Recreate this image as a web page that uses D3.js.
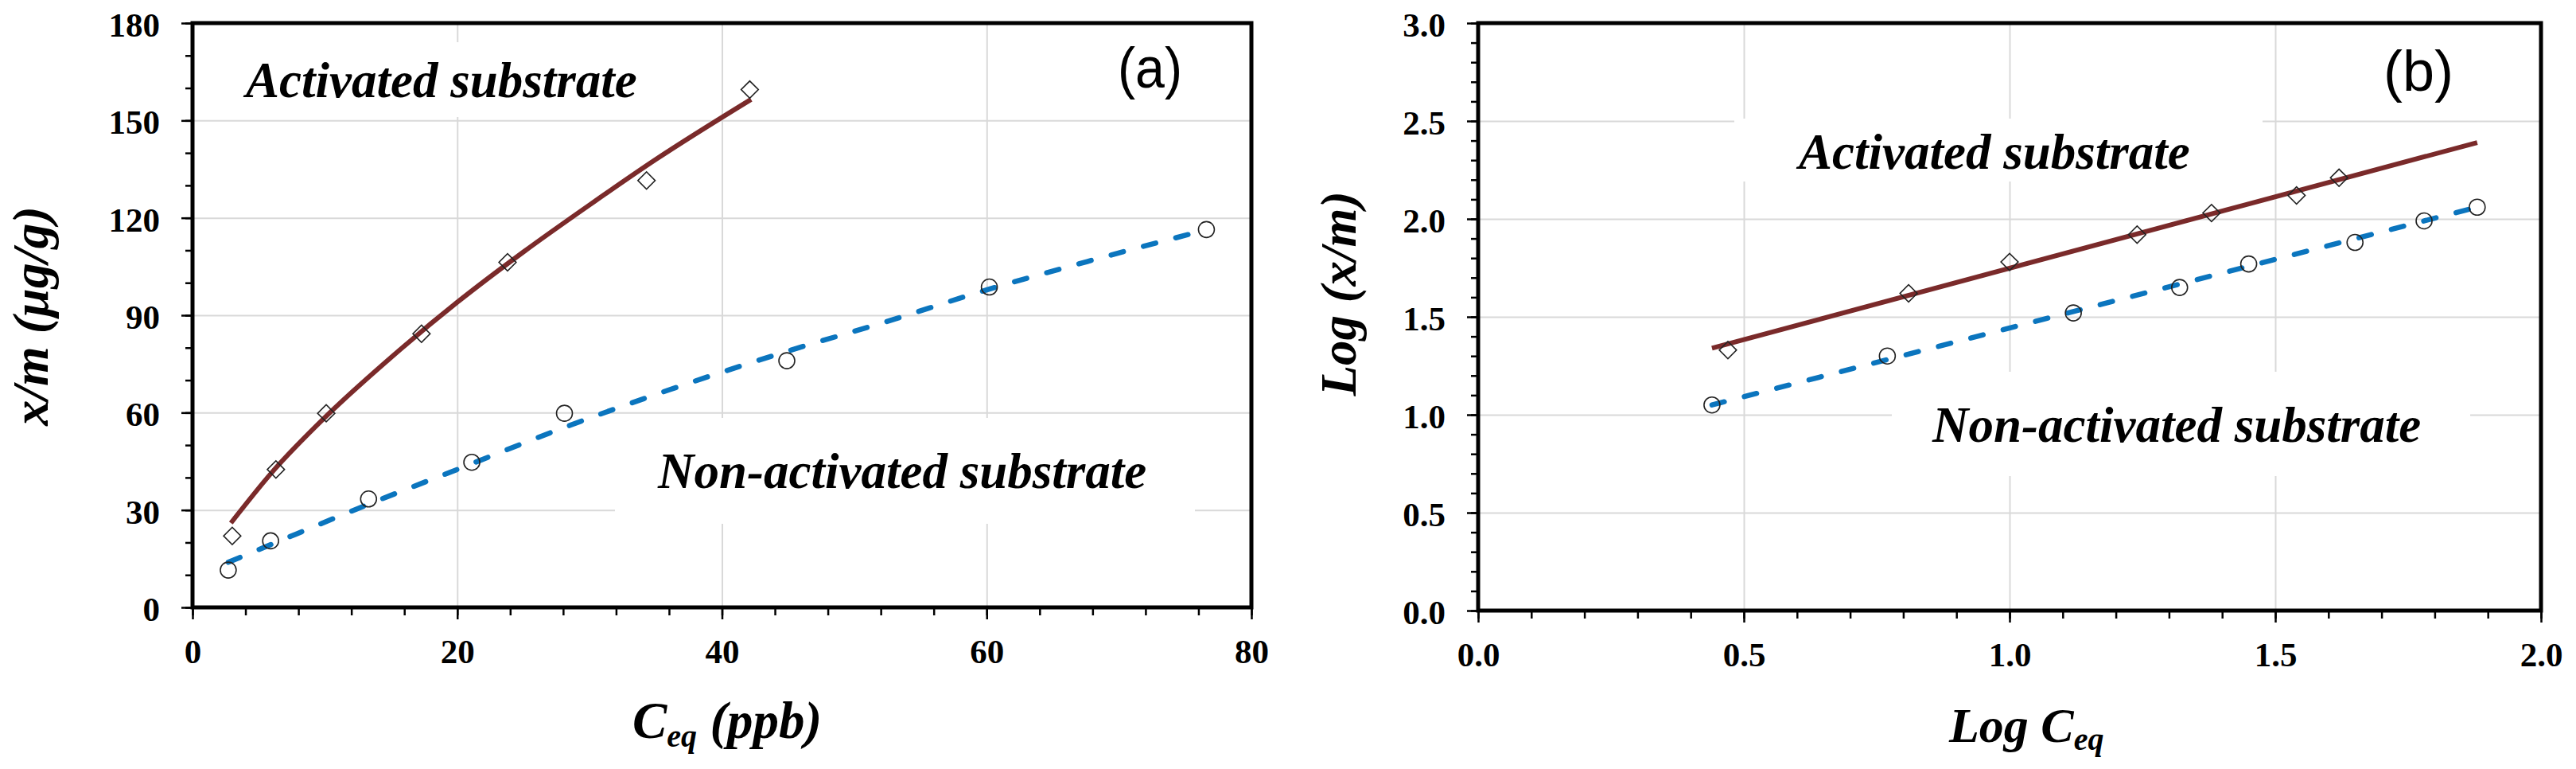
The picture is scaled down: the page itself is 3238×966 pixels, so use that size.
<!DOCTYPE html>
<html>
<head>
<meta charset="utf-8">
<script src="https://cdn.jsdelivr.net/npm/d3@7"></script>
<style>
  body { margin: 0; background: #fff; }
  svg { display: block; }
  .grid line { stroke: #d9d9d9; stroke-width: 2; }
  .grid path, .axis path { display: none; }
  .axis line { stroke: #000; stroke-width: 2.5; }
  .axis text { font-family: "Liberation Serif", "Times New Roman", serif; font-weight: bold; font-size: 43px; fill: #000; }
  .note { font-family: "Liberation Serif", "Times New Roman", serif; font-weight: bold; font-style: italic; fill: #000; }
  .tag { font-family: "Liberation Sans", Arial, sans-serif; fill: #000; }
</style>
</head>
<body>
<div id="chart"></div>
<script>

// ---- panel (a): x/m vs Ceq ----
var ceqNon = [2.7, 5.9, 13.3, 21.1, 28.1, 44.9, 60.2, 76.6];
var xmNon  = [11.5, 20.5, 33.4, 44.7, 59.8, 76.0, 98.7, 116.4];
var ceqAct = [3.0, 6.3, 10.1, 17.3, 23.8, 34.3, 42.1];
var xmAct  = [22.0, 42.5, 59.8, 84.3, 106.3, 131.5, 159.5];

// fitted curves
var fitActCeq = [2.9, 6, 10, 15, 20, 25, 30, 35, 42.2];
var fitActXm  = [26, 41.6, 58.5, 77, 94, 109.5, 124, 138, 156.5];
var fitNonCeq = [2.7, 6, 13, 20, 28, 36, 45, 52, 60, 68, 76.3];
var fitNonXm  = [13.9, 19.5, 31.3, 42.5, 55.3, 67, 79, 87.5, 97.8, 107, 116];

var xTicksA = [0, 20, 40, 60, 80];
var yTicksA = [0, 30, 60, 90, 120, 150, 180];

// ---- panel (b): Log(x/m) vs Log Ceq ----
var logCeqNon = [0.44, 0.77, 1.12, 1.32, 1.45, 1.65, 1.78, 1.88];
var logXmNon  = [1.05, 1.30, 1.52, 1.65, 1.77, 1.88, 1.99, 2.06];
var logCeqAct = [0.47, 0.81, 1.00, 1.24, 1.38, 1.54, 1.62];
var logXmAct  = [1.33, 1.62, 1.78, 1.92, 2.03, 2.12, 2.21];

var fitLogActCeq = [0.44, 1.88];
var fitLogActXm  = [1.34, 2.39];
var fitLogNonCeq = [0.44, 1.88];
var fitLogNonXm  = [1.05, 2.06];

var xTicksB = [0, 0.5, 1.0, 1.5, 2.0];
var yTicksB = [0, 0.5, 1.0, 1.5, 2.0, 2.5, 3.0];

var RED = "#7a2a2a", BLUE = "#0b75be";

function zip(xs, ys) { return xs.map(function(d, i) { return [d, ys[i]]; }); }


/*
 * IsothermPanel - one framed scatter plot with two fitted lines
 */
IsothermPanel = function(_svg, _opts) {
    this.svg = _svg;
    this.opts = _opts;
    this.initVis();
}

IsothermPanel.prototype.initVis = function() {
    var vis = this, o = vis.opts;

    vis.x = d3.scaleLinear().domain(o.xDomain).range([o.left, o.right]);
    vis.y = d3.scaleLinear().domain(o.yDomain).range([o.bottom, o.top]);

    // gridlines
    vis.svg.append("g")
        .attr("class", "grid")
        .attr("transform", "translate(0," + o.bottom + ")")
        .call(d3.axisBottom(vis.x).tickValues(o.xTicks.slice(1, -1))
            .tickSize(-(o.bottom - o.top)).tickFormat(""));
    vis.svg.append("g")
        .attr("class", "grid")
        .attr("transform", "translate(" + o.left + ",0)")
        .call(d3.axisLeft(vis.y).tickValues(o.yTicks.slice(1, -1))
            .tickSize(-(o.right - o.left)).tickFormat(""));

    // white boxes behind the text labels (they cut the gridlines)
    o.boxes.forEach(function(b) {
        vis.svg.append("rect")
            .attr("x", b[0]).attr("y", b[1])
            .attr("width", b[2] - b[0]).attr("height", b[3] - b[1])
            .attr("fill", "#fff");
    });

    // fitted lines
    var line = d3.line()
        .x(function(d) { return vis.x(d[0]); })
        .y(function(d) { return vis.y(d[1]); })
        .curve(d3.curveMonotoneX);

    vis.svg.append("path")
        .datum(o.fitAct)
        .attr("d", line)
        .attr("fill", "none")
        .attr("stroke", RED)
        .attr("stroke-width", 6);

    vis.svg.append("path")
        .datum(o.fitNon)
        .attr("d", line)
        .attr("fill", "none")
        .attr("stroke", BLUE)
        .attr("stroke-width", 6.5)
        .attr("stroke-linecap", "round")
        .attr("stroke-dasharray", "16,26");

    // markers
    vis.svg.selectAll(null)
        .data(o.ptsAct).enter()
        .append("path")
        .attr("d", d3.symbol().type(d3.symbolSquare).size(235))
        .attr("transform", function(d) { return "translate(" + vis.x(d[0]) + "," + vis.y(d[1]) + ") rotate(45)"; })
        .attr("fill", "none")
        .attr("stroke", "#222")
        .attr("stroke-width", 1.6);

    vis.svg.selectAll(null)
        .data(o.ptsNon).enter()
        .append("circle")
        .attr("cx", function(d) { return vis.x(d[0]); })
        .attr("cy", function(d) { return vis.y(d[1]); })
        .attr("r", 10)
        .attr("fill", "none")
        .attr("stroke", "#222")
        .attr("stroke-width", 1.6);

    // frame
    vis.svg.append("rect")
        .attr("x", o.left).attr("y", o.top)
        .attr("width", o.right - o.left).attr("height", o.bottom - o.top)
        .attr("fill", "none")
        .attr("stroke", "#000")
        .attr("stroke-width", 5);

    // axes: major + minor ticks
    vis.svg.append("g")
        .attr("class", "axis")
        .attr("transform", "translate(" + o.left + ",0)")
        .call(d3.axisLeft(vis.y).tickValues(o.yMinor).tickSize(9).tickFormat(""));
    vis.svg.append("g")
        .attr("class", "axis")
        .attr("transform", "translate(" + o.left + ",0)")
        .call(d3.axisLeft(vis.y).tickValues(o.yTicks).tickSize(14).tickPadding(27).tickFormat(o.fmt))
      .selectAll("text").attr("dy", "0.38em");

    vis.svg.append("g")
        .attr("class", "axis")
        .attr("transform", "translate(0," + o.bottom + ")")
        .call(d3.axisBottom(vis.x).tickValues(o.xMinor).tickSize(10).tickFormat(""));
    vis.svg.append("g")
        .attr("class", "axis")
        .attr("transform", "translate(0," + o.bottom + ")")
        .call(d3.axisBottom(vis.x).tickValues(o.xTicks).tickSize(15).tickPadding(24).tickFormat(o.fmt));

    // notes inside the plot
    o.notes.forEach(function(n) {
        vis.svg.append("text")
            .attr("class", "note")
            .attr("x", n[1]).attr("y", n[2])
            .attr("font-size", 63)
            .text(n[0]);
    });

    vis.svg.append("text")
        .attr("class", "tag")
        .attr("x", o.tag[1]).attr("y", o.tag[2])
        .attr("font-size", 72)
        .attr("textLength", o.tag[3])
        .attr("lengthAdjust", "spacingAndGlyphs")
        .text(o.tag[0]);
}


var svg = d3.select("#chart").append("svg")
    .attr("width", 3238)
    .attr("height", 966);

var panelA = new IsothermPanel(svg, {
    xDomain: [0, 80], yDomain: [0, 180],
    left: 242, right: 1573, top: 29, bottom: 763,
    xTicks: xTicksA, yTicks: yTicksA,
    xMinor: d3.range(0, 81, 4), yMinor: d3.range(0, 181, 10),
    fmt: d3.format("d"),
    ptsAct: zip(ceqAct, xmAct), ptsNon: zip(ceqNon, xmNon),
    fitAct: zip(fitActCeq, fitActXm), fitNon: zip(fitNonCeq, fitNonXm),
    boxes: [[298, 53, 818, 147], [773, 525, 1502, 658]],
    notes: [["Activated substrate", 309, 122], ["Non-activated substrate", 827, 613]],
    tag: ["(a)", 1405, 110, 81]
});

var panelB = new IsothermPanel(svg, {
    xDomain: [0, 2], yDomain: [0, 3],
    left: 1858, right: 3194, top: 29, bottom: 767,
    xTicks: xTicksB, yTicks: yTicksB,
    xMinor: d3.range(0, 2.01, 0.1), yMinor: d3.range(0, 3.01, 0.1),
    fmt: d3.format(".1f"),
    ptsAct: zip(logCeqAct, logXmAct), ptsNon: zip(logCeqNon, logXmNon),
    fitAct: zip(fitLogActCeq, fitLogActXm), fitNon: zip(fitLogNonCeq, fitLogNonXm),
    boxes: [[2180, 149, 2844, 228], [2378, 467, 3105, 598]],
    notes: [["Activated substrate", 2261, 212], ["Non-activated substrate", 2429, 555]],
    tag: ["(b)", 2996, 114, 88]
});

// axis titles
var yTitleA = svg.append("text")
    .attr("class", "note")
    .attr("font-size", 64)
    .attr("text-anchor", "middle")
    .attr("transform", "translate(60,397) rotate(-90)")
    .text("x/m (\u03bcg/g)");

var yTitleB = svg.append("text")
    .attr("class", "note")
    .attr("font-size", 63)
    .attr("text-anchor", "middle")
    .attr("transform", "translate(1704,369) rotate(-90)")
    .text("Log (x/m)");

var xTitleA = svg.append("text")
    .attr("class", "note")
    .attr("font-size", 65)
    .attr("x", 795).attr("y", 927);
xTitleA.append("tspan").text("C");
xTitleA.append("tspan").attr("font-size", 40).attr("dy", 11).text("eq");
xTitleA.append("tspan").attr("dy", -11).text(" (ppb)");

var xTitleB = svg.append("text")
    .attr("class", "note")
    .attr("font-size", 62)
    .attr("x", 2450).attr("y", 932);
xTitleB.append("tspan").text("Log C");
xTitleB.append("tspan").attr("font-size", 40).attr("dy", 10).text("eq");

</script>
</body>
</html>
